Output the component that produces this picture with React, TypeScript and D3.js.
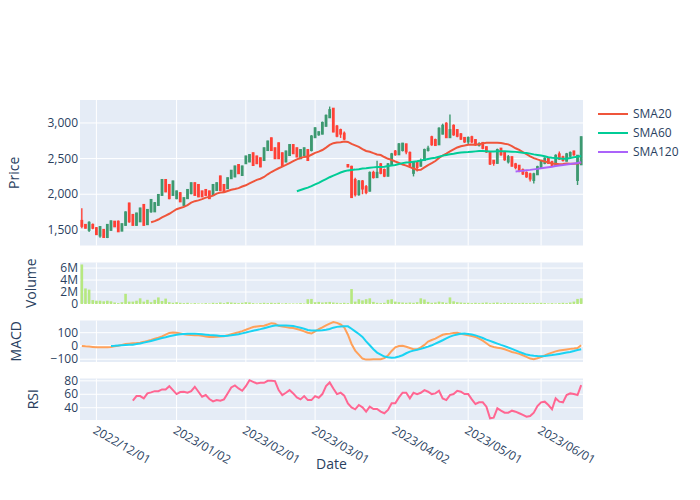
import React from "react";
import * as d3 from "d3";

// ---------- data ----------
const dates: string[] = [
  "2022-11-25", "2022-11-28", "2022-11-29", "2022-11-30",
  "2022-12-01", "2022-12-02", "2022-12-05", "2022-12-06", "2022-12-07", "2022-12-08", "2022-12-09",
  "2022-12-12", "2022-12-13", "2022-12-14", "2022-12-15", "2022-12-16",
  "2022-12-19", "2022-12-20", "2022-12-21", "2022-12-22", "2022-12-23",
  "2022-12-26", "2022-12-27", "2022-12-28", "2022-12-29", "2022-12-30",
  "2023-01-04", "2023-01-05", "2023-01-06",
  "2023-01-10", "2023-01-11", "2023-01-12", "2023-01-13",
  "2023-01-16", "2023-01-17", "2023-01-18", "2023-01-19", "2023-01-20",
  "2023-01-23", "2023-01-24", "2023-01-25", "2023-01-26", "2023-01-27",
  "2023-01-30", "2023-01-31", "2023-02-01", "2023-02-02", "2023-02-03",
  "2023-02-06", "2023-02-07", "2023-02-08", "2023-02-09", "2023-02-10",
  "2023-02-13", "2023-02-14", "2023-02-15", "2023-02-16", "2023-02-17",
  "2023-02-20", "2023-02-21", "2023-02-22", "2023-02-24",
  "2023-02-27", "2023-02-28", "2023-03-01", "2023-03-02", "2023-03-03",
  "2023-03-06", "2023-03-07", "2023-03-08", "2023-03-09", "2023-03-10",
  "2023-03-13", "2023-03-14", "2023-03-15", "2023-03-16", "2023-03-17",
  "2023-03-20", "2023-03-22", "2023-03-23", "2023-03-24",
  "2023-03-27", "2023-03-28", "2023-03-29", "2023-03-30", "2023-03-31",
  "2023-04-03", "2023-04-04", "2023-04-05", "2023-04-06", "2023-04-07",
  "2023-04-10", "2023-04-11", "2023-04-12", "2023-04-13", "2023-04-14",
  "2023-04-17", "2023-04-18", "2023-04-19", "2023-04-20", "2023-04-21",
  "2023-04-24", "2023-04-25", "2023-04-26", "2023-04-27", "2023-04-28",
  "2023-05-01", "2023-05-02",
  "2023-05-08", "2023-05-09", "2023-05-10", "2023-05-11", "2023-05-12",
  "2023-05-15", "2023-05-16", "2023-05-17", "2023-05-18", "2023-05-19",
  "2023-05-22", "2023-05-23", "2023-05-24", "2023-05-25", "2023-05-26",
  "2023-05-29", "2023-05-30", "2023-05-31", "2023-06-01", "2023-06-02",
  "2023-06-05", "2023-06-06", "2023-06-07", "2023-06-08", "2023-06-09",
  "2023-06-12", "2023-06-13", "2023-06-14", "2023-06-15", "2023-06-16",
];

const openP: number[] = [
  1626, 1570, 1500, 1570, 1524, 1420, 1500, 1400, 1500, 1615,
  1615, 1490, 1570, 1870, 1710, 1570, 1620, 1850, 1580, 1760,
  1760, 1850, 1990, 2200, 2130, 1990, 1945, 2015, 1850, 1945,
  2015, 2155, 2130, 2040, 2060, 2040, 1990, 2060, 2250, 2130,
  2085, 2225, 2250, 2410, 2270, 2435, 2460, 2575, 2530, 2505,
  2480, 2620, 2785, 2645, 2715, 2575, 2460, 2550, 2690, 2645,
  2505, 2550, 2620, 2620, 2800, 2840, 2850, 2960, 3080, 3200,
  2950, 2900, 2850, 2410, 2385, 2200, 2000, 2180, 2100, 2050,
  2300, 2240, 2420, 2340, 2260, 2420, 2600, 2560, 2620, 2700,
  2580, 2300, 2450, 2400, 2480, 2620, 2800, 2760, 2700, 2850,
  2990, 2800, 2960, 2900, 2840, 2790, 2740, 2800, 2760, 2690,
  2720, 2660, 2580, 2470, 2440, 2640, 2580, 2460, 2520, 2420,
  2400, 2340, 2300, 2280, 2200, 2280, 2380, 2440, 2500, 2450,
  2410, 2560, 2520, 2470, 2540, 2600, 2200, 2420,
];

const highP: number[] = [
  1804, 1580, 1620, 1590, 1540, 1550, 1510, 1580, 1630, 1625,
  1630, 1590, 1760, 1880, 1720, 1740, 1810, 1860, 1790, 1930,
  1890, 2000, 2210, 2210, 2140, 2190, 2050, 2030, 1955, 2070,
  2165, 2165, 2140, 2050, 2070, 2050, 2140, 2165, 2260, 2140,
  2235, 2340, 2400, 2420, 2400, 2540, 2560, 2585, 2540, 2515,
  2655, 2750, 2795, 2655, 2725, 2585, 2610, 2700, 2700, 2655,
  2630, 2655, 2630, 2830, 2940, 2880, 3020, 3120, 3230, 3210,
  2970, 2920, 2880, 2420, 2400, 2230, 2200, 2200, 2130, 2320,
  2330, 2470, 2440, 2360, 2440, 2580, 2620, 2720, 2720, 2710,
  2600, 2460, 2470, 2500, 2640, 2680, 2820, 2780, 2940, 2990,
  3010, 3120, 2980, 2910, 2860, 2800, 2810, 2820, 2770, 2730,
  2730, 2670, 2590, 2480, 2640, 2650, 2590, 2550, 2530, 2440,
  2410, 2360, 2320, 2300, 2300, 2400, 2480, 2520, 2510, 2470,
  2560, 2600, 2540, 2580, 2600, 2610, 2550, 2810,
];

const lowP: number[] = [
  1524, 1520, 1470, 1510, 1430, 1390, 1390, 1385, 1490, 1540,
  1470, 1480, 1560, 1600, 1560, 1560, 1610, 1560, 1570, 1740,
  1750, 1840, 1980, 2030, 1930, 1980, 1930, 1890, 1830, 1935,
  2000, 1980, 1960, 1960, 1980, 1935, 1980, 2050, 2050, 2030,
  2075, 2215, 2240, 2285, 2260, 2425, 2450, 2400, 2425, 2380,
  2470, 2610, 2610, 2495, 2495, 2400, 2450, 2540, 2565, 2520,
  2495, 2540, 2470, 2600, 2790, 2820, 2840, 2950, 3070, 2870,
  2800, 2790, 2760, 2380, 1950, 1970, 1980, 2000, 2000, 2040,
  2220, 2230, 2280, 2240, 2250, 2410, 2540, 2550, 2600, 2560,
  2380, 2250, 2320, 2390, 2470, 2600, 2680, 2680, 2690, 2840,
  2790, 2790, 2820, 2800, 2760, 2720, 2700, 2720, 2680, 2670,
  2630, 2580, 2410, 2400, 2430, 2540, 2470, 2430, 2390, 2350,
  2310, 2270, 2230, 2180, 2150, 2270, 2370, 2420, 2430, 2400,
  2400, 2480, 2460, 2460, 2520, 2540, 2130, 2410,
];

const closeP: number[] = [
  1556, 1530, 1600, 1530, 1440, 1540, 1400, 1570, 1620, 1550,
  1480, 1580, 1745, 1620, 1570, 1730, 1800, 1570, 1780, 1920,
  1875, 1990, 2200, 2040, 1945, 2180, 2040, 1900, 1945, 2060,
  2155, 1990, 1970, 1970, 1990, 1945, 2130, 2155, 2060, 2040,
  2225, 2330, 2390, 2295, 2390, 2530, 2550, 2410, 2435, 2390,
  2645, 2740, 2620, 2505, 2505, 2410, 2600, 2690, 2575, 2530,
  2620, 2645, 2480, 2810, 2925, 2870, 3000, 3100, 3180, 2880,
  2820, 2850, 2780, 2390, 1960, 2000, 2180, 2080, 2030, 2300,
  2240, 2300, 2300, 2260, 2420, 2560, 2560, 2700, 2710, 2600,
  2400, 2440, 2380, 2460, 2620, 2640, 2700, 2690, 2920, 2960,
  2800, 2900, 2840, 2820, 2780, 2740, 2790, 2740, 2700, 2700,
  2650, 2600, 2430, 2440, 2620, 2560, 2490, 2520, 2400, 2380,
  2330, 2290, 2250, 2220, 2280, 2380, 2460, 2500, 2440, 2410,
  2540, 2500, 2480, 2560, 2580, 2560, 2540, 2800,
];

const volume: number[] = [
  6.6e6, 2.6e6, 2.4e6, 0.65e6, 0.55e6, 0.55e6, 0.45e6, 0.55e6, 0.45e6, 0.25e6,
  0.15e6, 0.3e6, 1.7e6, 0.4e6, 0.4e6, 0.55e6, 0.95e6, 0.4e6, 0.7e6, 0.3e6,
  0.7e6, 1.1e6, 0.5e6, 0.9e6, 0.3e6, 0.2e6, 0.3e6, 0.2e6, 0.15e6, 0.2e6,
  0.1e6, 0.15e6, 0.1e6, 0.1e6, 0.15e6, 0.1e6, 0.2e6, 0.15e6, 0.25e6, 0.15e6,
  0.3e6, 0.25e6, 0.2e6, 0.15e6, 0.2e6, 0.3e6, 0.25e6, 0.15e6, 0.1e6, 0.15e6,
  0.2e6, 0.15e6, 0.2e6, 0.15e6, 0.2e6, 0.1e6, 0.15e6, 0.1e6, 0.1e6, 0.1e6,
  0.15e6, 0.1e6, 0.8e6, 0.85e6, 0.3e6, 0.35e6, 0.25e6, 0.3e6, 0.35e6, 0.25e6,
  0.2e6, 0.15e6, 0.2e6, 0.15e6, 2.5e6, 0.4e6, 0.8e6, 0.6e6, 0.8e6, 0.95e6,
  0.35e6, 0.2e6, 0.15e6, 0.2e6, 0.7e6, 0.8e6, 0.4e6, 0.3e6, 0.25e6, 0.2e6,
  0.25e6, 0.2e6, 0.3e6, 0.95e6, 0.75e6, 0.35e6, 0.2e6, 0.25e6, 0.4e6, 0.3e6,
  0.2e6, 1.1e6, 0.45e6, 0.3e6, 0.25e6, 0.2e6, 0.2e6, 0.15e6, 0.2e6, 0.15e6,
  0.2e6, 0.25e6, 0.15e6, 0.2e6, 0.25e6, 0.15e6, 0.2e6, 0.15e6, 0.2e6, 0.15e6,
  0.15e6, 0.2e6, 0.15e6, 0.15e6, 0.2e6, 0.15e6, 0.2e6, 0.15e6, 0.1e6, 0.15e6,
  0.1e6, 0.15e6, 0.2e6, 0.15e6, 0.25e6, 0.4e6, 0.85e6, 0.95e6,
];

const macdLine: number[] = [
  0, -3, -5, -7, -9, -10, -10, -9, -7, -3,
  2, 8, 14, 17, 20, 22, 25, 31, 38, 46,
  55, 63, 72, 85, 98, 101, 100, 95, 88, 84,
  82, 81, 80, 76, 72, 68, 68, 70, 72, 74,
  80, 88, 96, 103, 112, 122, 133, 143, 147, 150,
  153, 162, 172, 168, 152, 146, 142, 138, 135, 128,
  120, 110, 100, 94, 110, 126, 140, 155, 168, 180,
  174, 162, 140, 85, 15, -35, -65, -95, -103, -102,
  -101, -100, -100, -92, -72, -38, -10, 0, 2, -6,
  -15, -25, -25, -10, 8, 33, 45, 55, 70, 84,
  90, 93, 98, 100, 92, 87, 81, 75, 68, 55,
  40, 20, 0, -8, -13, -18, -25, -35, -45, -52,
  -60, -70, -83, -95, -100, -93, -83, -72, -60, -50,
  -41, -35, -30, -26, -22, -19, -15, 5,
];

const signalLine: (number | null)[] = [
  null, null, null, null, null, null, null, null, 0, 1,
  3, 5, 7, 9, 10, 14, 19, 25, 31, 38,
  45, 52, 60, 66, 73, 79, 84, 88, 90, 92,
  93, 93, 91, 88, 85, 82, 80, 78, 76, 75,
  77, 80, 84, 89, 95, 101, 108, 115, 121, 127,
  134, 141, 148, 154, 155, 155, 154, 152, 150, 144,
  137, 130, 121, 117, 116, 117, 118, 122, 128, 138,
  144, 147, 149, 148, 130, 110, 90, 68, 35, 5,
  -25, -50, -65, -80, -85, -88, -87, -80, -70, -55,
  -43, -35, -28, -22, -14, -5, 5, 17, 30, 43,
  57, 70, 80, 87, 92, 93, 90, 86, 80, 70,
  60, 48, 38, 28, 18, 8, -1, -12, -22, -33,
  -45, -55, -65, -70, -74, -76, -77, -76, -72, -69,
  -65, -60, -55, -50, -45, -38, -30, -25,
];

const rsiLine: (number | null)[] = [
  null, null, null, null, null, null, null, null, null, null,
  null, null, null, null, 50.4, 57.3, 57.3, 53.9, 61.3, 62.8,
  64.7, 64.7, 67.2, 67.2, 72.1, 66.2, 60.3, 63.3, 63.8, 62.3,
  64.7, 71.2, 63.8, 56.3, 58.8, 52.9, 49.4, 51.4, 50.4, 52.4,
  61.3, 70.2, 73.1, 68.7, 65.2, 72.1, 81.0, 78.6, 76.1, 77.1,
  77.1, 80.1, 80.1, 79.6, 66.2, 58.8, 62.3, 66.2, 61.3, 55.4,
  52.4, 57.3, 51.4, 51.4, 57.3, 54.9, 60.3, 72.1, 77.6, 68.7,
  60.3, 62.3, 58.0, 46.5, 40.5, 37.6, 44.0, 40.5, 34.1, 41.5,
  38.1, 38.1, 34.1, 31.7, 36.6, 46.5, 46.5, 55.4, 62.3, 62.3,
  53.9, 62.3, 60.3, 62.3, 66.2, 63.8, 60.3, 61.3, 65.2, 53.9,
  51.4, 58.8, 60.3, 65.2, 63.8, 60.3, 60.3, 52.4, 45.5, 48.0,
  48.0, 41.5, 24.3, 25.2, 39.1, 35.6, 32.6, 32.6, 35.6, 34.1,
  31.7, 29.2, 26.7, 27.7, 32.6, 42.5, 48.0, 49.0, 44.0, 37.6,
  53.9, 49.0, 48.0, 58.8, 61.3, 60.3, 58.8, 73.6,
];

const tickDates: string[] = ["2022-12-01", "2023-01-02", "2023-02-01", "2023-03-01", "2023-04-02", "2023-05-01", "2023-06-01"];
const tickLabels: string[] = ["2022/12/01", "2023/01/02", "2023/02/01", "2023/03/01", "2023/04/02", "2023/05/01", "2023/06/01"];
const priceTicks: number[] = [1500, 2000, 2500, 3000];
const volumeTicks: number[] = [0, 2e6, 4e6, 6e6];
const macdTicks: number[] = [-100, 0, 100];
const rsiTicks: number[] = [40, 60, 80];
const smaPeriods: number[] = [20, 60, 120];
const smaNames: string[] = ["SMA20", "SMA60", "SMA120"];

// ---------- style ----------
const FONT = '"Open Sans", verdana, arial, sans-serif';
const TEXT = "#2a3f5f";
const BG = "#E5ECF6";
const INC = "#3D9970";
const DEC = "#FF4136";
const SMA_COLORS = ["#EF553B", "#00CC96", "#AB63FA"];
const MACD_COLOR = "#FFA15A";
const SIGNAL_COLOR = "#19D3F3";
const RSI_COLOR = "#FF6692";
const VOL_COLOR = "#B6E880";

const LEFT = 80;
const RIGHT = 583;
const P_PRICE = { top: 100, bottom: 245.5 };
const P_VOL = { top: 262.5, bottom: 304 };
const P_MACD = { top: 320.5, bottom: 362 };
const P_RSI = { top: 378.5, bottom: 420 };

function movingAverage(values: number[], n: number): (number | null)[] {
  return values.map((_, i) => (i < n - 1 ? null : (d3.mean(values.slice(i - n + 1, i + 1)) as number)));
}

type Scale = d3.ScaleLinear<number, number>;

function Panel(props: {
  box: { top: number; bottom: number };
  y: Scale;
  ticks: number[];
  fmt: (v: number) => string;
  xTicks: number[];
  x: Scale;
  title: string;
  titleX: number;
  zeroLine?: boolean;
}) {
  const { box, y, ticks, fmt, xTicks, x, title, titleX, zeroLine } = props;
  const cy = (box.top + box.bottom) / 2;
  return (
    <g>
      <rect x={LEFT} y={box.top} width={RIGHT - LEFT} height={box.bottom - box.top} fill={BG} />
      {xTicks.map((t, i) => (
        <line key={"xg" + i} x1={x(t)} x2={x(t)} y1={box.top} y2={box.bottom} stroke="#fff" strokeWidth={1} />
      ))}
      {ticks.map((t, i) => (
        <line
          key={"yg" + i}
          x1={LEFT}
          x2={RIGHT}
          y1={y(t)}
          y2={y(t)}
          stroke="#fff"
          strokeWidth={zeroLine && t === 0 ? 2 : 1}
        />
      ))}
      {ticks.map((t, i) => (
        <text key={"yl" + i} x={78} y={y(t)} dy="0.35em" textAnchor="end" fontSize={12} fill={TEXT}>
          {fmt(t)}
        </text>
      ))}
      <text
        transform={`translate(${titleX},${cy}) rotate(-90)`}
        textAnchor="middle"
        dy="0.35em"
        fontSize={14}
        fill={TEXT}
      >
        {title}
      </text>
    </g>
  );
}

export default function App() {
  const n = dates.length;
  const x = d3.scaleLinear().domain([-0.5, n - 0.5]).range([LEFT, RIGHT]);
  const step = x(1) - x(0);

  const yPrice = d3.scaleLinear().domain([1281, 3322]).range([P_PRICE.bottom, P_PRICE.top]);
  const yVol = d3
    .scaleLinear()
    .domain([0, (d3.max(volume) as number) * 1.05])
    .range([P_VOL.bottom, P_VOL.top]);
  const yMacd = d3.scaleLinear().domain([-121, 192]).range([P_MACD.bottom, P_MACD.top]);
  const yRsi = d3.scaleLinear().domain([21.7, 83.5]).range([P_RSI.bottom, P_RSI.top]);

  const xTicks = tickDates.map((td) => dates.findIndex((d) => d >= td));

  const lineOf = (y: Scale) =>
    d3
      .line<number | null>()
      .defined((v) => v != null)
      .x((_, i) => x(i))
      .y((v) => y(v as number));

  const smaSeries = smaPeriods.map((p) => movingAverage(closeP, p));

  const priceFmt = d3.format(",");
  const volFmt = (v: number) => (v === 0 ? "0" : d3.format("~s")(v));
  const numFmt = d3.format("");

  return (
    <svg
      width={700}
      height={500}
      style={{ position: "absolute", left: 0, top: 0, background: "#fff" }}
      fontFamily={FONT}
    >
      <rect x={0} y={0} width={700} height={500} fill="#fff" />

      {/* Price panel */}
      <Panel box={P_PRICE} y={yPrice} ticks={priceTicks} fmt={priceFmt} xTicks={xTicks} x={x} title="Price" titleX={14} />
      <g>
        {dates.map((_, i) => {
          const o = openP[i];
          const c = closeP[i];
          const up = c >= o;
          const col = up ? INC : DEC;
          const hi = Math.max(highP[i], o, c);
          const lo = Math.min(lowP[i], o, c);
          const top = yPrice(Math.max(o, c));
          const bot = yPrice(Math.min(o, c));
          const bw = step * 0.22;
          return (
            <g key={"c" + i}>
              <line x1={x(i)} x2={x(i)} y1={yPrice(hi)} y2={yPrice(lo)} stroke={col} strokeWidth={1.4} />
              <rect
                x={x(i) - bw / 2}
                y={top}
                width={bw}
                height={Math.max(bot - top, 0.5)}
                fill={col}
                fillOpacity={0.5}
                stroke={col}
                strokeWidth={2}
              />
            </g>
          );
        })}
      </g>
      {smaSeries.map((s, k) => (
        <path key={"sma" + k} d={lineOf(yPrice)(s) || ""} fill="none" stroke={SMA_COLORS[k]} strokeWidth={2} />
      ))}

      {/* Volume panel */}
      <Panel box={P_VOL} y={yVol} ticks={volumeTicks} fmt={volFmt} xTicks={xTicks} x={x} title="Volume" titleX={31} zeroLine />
      {volume.map((v, i) => (
        <rect
          key={"v" + i}
          x={x(i) - step * 0.36}
          y={yVol(v)}
          width={step * 0.72}
          height={yVol(0) - yVol(v)}
          fill={VOL_COLOR}
        />
      ))}

      {/* MACD panel */}
      <Panel box={P_MACD} y={yMacd} ticks={macdTicks} fmt={numFmt} xTicks={xTicks} x={x} title="MACD" titleX={16} zeroLine />
      <path d={lineOf(yMacd)(macdLine) || ""} fill="none" stroke={MACD_COLOR} strokeWidth={2} />
      <path d={lineOf(yMacd)(signalLine) || ""} fill="none" stroke={SIGNAL_COLOR} strokeWidth={2} />

      {/* RSI panel */}
      <Panel box={P_RSI} y={yRsi} ticks={rsiTicks} fmt={numFmt} xTicks={xTicks} x={x} title="RSI" titleX={33} />
      <path d={lineOf(yRsi)(rsiLine) || ""} fill="none" stroke={RSI_COLOR} strokeWidth={2} />

      {/* X tick labels */}
      {xTicks.map((t, i) => (
        <text
          key={"xl" + i}
          transform={`translate(${x(t) - 2},${429}) rotate(30)`}
          dy="0.35em"
          textAnchor="start"
          fontSize={12}
          fill={TEXT}
        >
          {tickLabels[i]}
        </text>
      ))}
      <text x={(LEFT + RIGHT) / 2} y={469} textAnchor="middle" fontSize={14} fill={TEXT}>
        Date
      </text>

      {/* Legend */}
      {smaNames.map((name, k) => (
        <g key={"lg" + k} transform={`translate(598,${114 + k * 19})`}>
          <line x1={0} x2={30} y1={0} y2={0} stroke={SMA_COLORS[k]} strokeWidth={2} />
          <text x={35} y={0} dy="0.35em" fontSize={12} fill={TEXT}>
            {name}
          </text>
        </g>
      ))}
    </svg>
  );
}
